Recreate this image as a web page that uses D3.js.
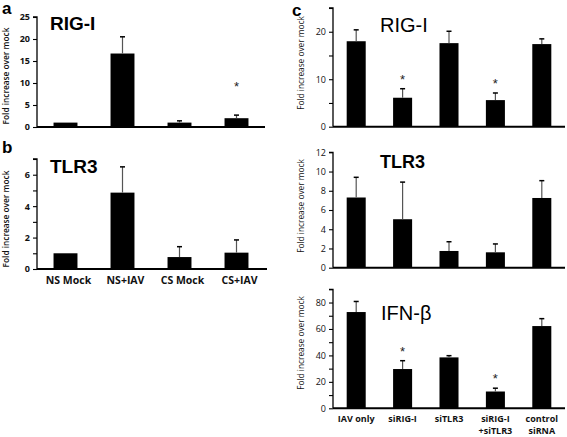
<!DOCTYPE html>
<html><head><meta charset="utf-8">
<script src="https://cdn.jsdelivr.net/npm/d3@7"></script>
<style>body{margin:0;background:#fff}svg{display:block}</style>
</head><body>
<svg id="c" width="567" height="437"></svg>
<script>
// ---- data ----
const catsAB = ["NS Mock", "NS+IAV", "CS Mock", "CS+IAV"];
const rigA = [1.0, 16.7, 1.0, 2.0];
const rigAErr = [1.0, 20.5, 1.4, 2.7];
const rigAStar = [false, false, false, true];
const tlrB = [1.0, 4.86, 0.76, 1.04];
const tlrBErr = [1.0, 6.5, 1.42, 1.85];

const catsC = [["IAV only"], ["siRIG-I"], ["siTLR3"], ["siRIG-I", "+siTLR3"], ["control", "siRNA"]];
const rigC = [18.0, 6.1, 17.6, 5.6, 17.4];
const rigCErr = [20.4, 8.0, 20.1, 7.1, 18.5];
const rigCStar = [false, true, false, true, false];
const tlrC = [7.3, 5.04, 1.74, 1.6, 7.25];
const tlrCErr = [9.4, 8.9, 2.7, 2.47, 9.05];
const ifnC = [72.8, 29.7, 38.5, 12.7, 62.2];
const ifnCErr = [80.8, 36.0, 39.8, 15.2, 67.8];
const ifnCStar = [false, true, false, true, false];

const ticksARig = [0, 5, 10, 15, 20, 25];
const ticksBTlr = [0, 1, 2, 3, 4, 5, 6, 7];
const ticksCRig = [0, 5, 10, 15, 20, 25];
const ticksCTlr = [0, 2, 4, 6, 8, 10, 12];
const ticksCIfn = [0, 10, 20, 30, 40, 50, 60, 70, 80, 90];

const svg = d3.select("#c");
const yTitle = "Fold increase over mock";

function panel(o) {
  const g = svg.append("g");
  const x = d3.scaleBand().domain(o.cats.map((d, i) => i)).range(o.xr)
    .paddingInner(o.pad).paddingOuter(o.pad / 2);
  const y = d3.scaleLinear().domain([0, o.max]).range(o.yr);
  // y axis
  const ax = d3.axisLeft(y).tickValues(o.ticks).tickSize(4).tickPadding(3)
    .tickFormat(d => o.labelEvery(d) ? d : "");
  const ag = g.append("g").attr("transform", `translate(${o.xr[0]},0)`).call(ax);
  ag.select(".domain").attr("stroke", "#000").attr("stroke-width", 1.3).attr("d", `M-4,${o.yr[1]}H0V${o.yr[0]}`);
  ag.selectAll(".tick line").attr("stroke", "#000").attr("stroke-width", 1.1);
  ag.selectAll("text").attr("font-family", o.tickFont).attr("font-size", o.tickSize)
    .attr("font-weight", o.tickWeight).attr("fill", "#111");
  // x axis line
  g.append("line").attr("x1", o.xr[0]).attr("x2", o.xEnd).attr("y1", o.yr[0]).attr("y2", o.yr[0])
    .attr("stroke", "#000").attr("stroke-width", 2);
  // bars
  g.selectAll("rect.b").data(o.vals).join("rect").attr("class", "b")
    .attr("x", (d, i) => x(i)).attr("width", x.bandwidth())
    .attr("y", d => y(d)).attr("height", d => o.yr[0] - y(d)).attr("fill", "#000");
  // error bars
  o.err.forEach((e, i) => {
    if (e <= o.vals[i] + 1e-9) return;
    const cx = x(i) + x.bandwidth() / 2;
    g.append("line").attr("x1", cx).attr("x2", cx).attr("y1", y(o.vals[i])).attr("y2", y(e))
      .attr("stroke", "#555").attr("stroke-width", 1.2);
    g.append("line").attr("x1", cx - 2.5).attr("x2", cx + 2.5).attr("y1", y(e)).attr("y2", y(e))
      .attr("stroke", "#000").attr("stroke-width", 1.5);
  });
  // asterisks
  if (o.star) o.star.forEach((s, i) => {
    if (!s) return;
    g.append("text").attr("x", x(i) + x.bandwidth() / 2).attr("y", y(o.err[i]) - o.starOff)
      .attr("text-anchor", "middle").attr("font-family", "Liberation Sans, Arial")
      .attr("font-size", 13).attr("fill", "#222").text("*");
  });
  // title
  g.append("text").attr("x", o.title[1]).attr("y", o.title[2]).attr("font-family", "Liberation Sans, Arial")
    .attr("font-size", o.title[3]).attr("font-weight", o.title[4]).attr("fill", "#000").text(o.title[0]);
  // y title
  g.append("text").attr("transform", `translate(${o.yTitlePos[0]},${o.yTitlePos[1]}) rotate(-90)`)
    .attr("text-anchor", "middle").attr("font-family", o.tickFont).attr("font-size", 8.3)
    .attr("font-weight", o.yTitleWeight).attr("fill", "#111").text(yTitle);
  // category labels
  if (o.showCats) {
    o.cats.forEach((c, i) => {
      const lines = Array.isArray(c) ? c : [c];
      lines.forEach((t, j) => {
        g.append("text").attr("x", x(i) + x.bandwidth() / 2 + o.catShift).attr("y", o.catY + j * o.catGap)
          .attr("text-anchor", "middle").attr("font-family", o.catFont).attr("font-size", o.catSize)
          .attr("font-weight", "bold").attr("fill", "#111").text(t);
      });
    });
  }
  return g;
}

const common = {
  tickFont: "Open Sans, Liberation Sans, Arial",
};

panel(Object.assign({}, common, {
  cats: catsAB, vals: rigA, err: rigAErr, star: rigAStar, starOff: 24,
  xr: [37, 265], xEnd: 265, pad: 0.58, max: 25, yr: [127, 17],
  ticks: ticksARig, labelEvery: d => true, tickSize: 9, tickWeight: "bold",
  title: ["RIG-I", 50, 30, 19, "bold"], yTitlePos: [9, 76], yTitleWeight: "600",
  showCats: false
}));
panel(Object.assign({}, common, {
  cats: catsAB, vals: tlrB, err: tlrBErr,
  xr: [37, 265], xEnd: 267, pad: 0.58, max: 7, yr: [269, 159],
  ticks: ticksBTlr, labelEvery: d => d % 2 === 0, tickSize: 9, tickWeight: "bold",
  title: ["TLR3", 50, 173, 19, "bold"], yTitlePos: [9, 219], yTitleWeight: "600",
  showCats: true, catY: 284, catGap: 12, catShift: 3, catFont: "Open Sans, Liberation Sans, Arial", catSize: 10.5
}));
panel(Object.assign({}, common, {
  cats: catsC, vals: rigC, err: rigCErr, star: rigCStar, starOff: 5,
  xr: [333, 565], xEnd: 565, pad: 0.59, max: 25, yr: [126.7, 8],
  ticks: ticksCRig, labelEvery: d => d % 10 === 0, tickSize: 9, tickWeight: "normal",
  title: ["RIG-I", 380, 32, 20, "normal"], yTitlePos: [304, 63], yTitleWeight: "normal",
  showCats: false
}));
panel(Object.assign({}, common, {
  cats: catsC, vals: tlrC, err: tlrCErr,
  xr: [333, 565], xEnd: 565, pad: 0.59, max: 12, yr: [267.7, 152.3],
  ticks: ticksCTlr, labelEvery: d => true, tickSize: 9, tickWeight: "normal",
  title: ["TLR3", 380, 168, 18, "bold"], yTitlePos: [304, 206], yTitleWeight: "normal",
  showCats: false
}));
panel(Object.assign({}, common, {
  cats: catsC, vals: ifnC, err: ifnCErr, star: ifnCStar, starOff: 5,
  xr: [333, 565], xEnd: 565, pad: 0.59, max: 90, yr: [408.3, 289.3],
  ticks: ticksCIfn, labelEvery: d => d % 20 === 0, tickSize: 9, tickWeight: "normal",
  title: ["IFN-β", 381, 320, 20, "normal"], yTitlePos: [304, 343], yTitleWeight: "normal",
  showCats: true, catY: 421.5, catGap: 12.5, catShift: 0, catFont: "Open Sans, Liberation Sans, Arial", catSize: 9
}));

// panel letters
[["a", 2, 14], ["b", 2, 153], ["c", 292, 16]].forEach(([t, x, y]) => {
  svg.append("text").attr("x", x).attr("y", y).attr("font-family", "Liberation Sans, Arial")
    .attr("font-size", 17).attr("font-weight", "bold").attr("fill", "#000").text(t);
});
</script>
</body></html>
